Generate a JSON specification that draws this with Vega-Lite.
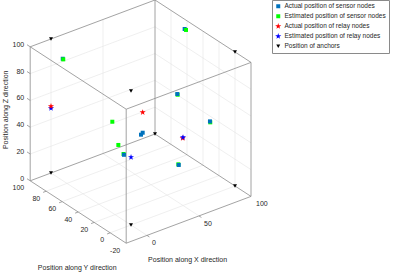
{
  "$schema": "https://vega.github.io/schema/vega-lite/v6.json",
  "width": 415,
  "height": 274,
  "padding": 0,
  "autosize": {"type": "none"},
  "background": "white",
  "config": {
    "view": {"stroke": null},
    "font": "Liberation Sans",
    "legend": {
      "orient": "none",
      "legendX": 272,
      "legendY": 0,
      "strokeColor": "#8a8a8a",
      "fillColor": "white",
      "padding": 3,
      "labelFontSize": 6.5,
      "labelColor": "#262626",
      "labelFont": "Liberation Sans",
      "rowPadding": 3,
      "labelOffset": 3,
      "symbolStrokeWidth": 0,
      "labelLimit": 300
    }
  },
  "datasets": {
    "frame": [
      {"part": "edge", "x1": -20, "y1": -20, "z1": 0, "x2": 100, "y2": -20, "z2": 0},
      {"part": "edge", "x1": -20, "y1": 100, "z1": 0, "x2": 100, "y2": 100, "z2": 0},
      {"part": "edge", "x1": -20, "y1": -20, "z1": 0, "x2": -20, "y2": 100, "z2": 0},
      {"part": "edge", "x1": 100, "y1": -20, "z1": 0, "x2": 100, "y2": 100, "z2": 0},
      {"part": "edge", "x1": -20, "y1": -20, "z1": 100, "x2": 100, "y2": -20, "z2": 100},
      {"part": "edge", "x1": -20, "y1": 100, "z1": 100, "x2": 100, "y2": 100, "z2": 100},
      {"part": "edge", "x1": -20, "y1": -20, "z1": 100, "x2": -20, "y2": 100, "z2": 100},
      {"part": "edge", "x1": 100, "y1": -20, "z1": 100, "x2": 100, "y2": 100, "z2": 100},
      {"part": "edge", "x1": -20, "y1": -20, "z1": 0, "x2": -20, "y2": -20, "z2": 100},
      {"part": "edge", "x1": 100, "y1": -20, "z1": 0, "x2": 100, "y2": -20, "z2": 100},
      {"part": "edge", "x1": -20, "y1": 100, "z1": 0, "x2": -20, "y2": 100, "z2": 100},
      {"part": "edge", "x1": 100, "y1": 100, "z1": 0, "x2": 100, "y2": 100, "z2": 100},
      {"part": "tick", "x1": -20, "y1": 100, "z1": 0, "x2": -20, "y2": 104, "z2": 0},
      {"part": "tick", "x1": -20, "y1": 100, "z1": 20, "x2": -20, "y2": 104, "z2": 20},
      {"part": "tick", "x1": -20, "y1": 100, "z1": 40, "x2": -20, "y2": 104, "z2": 40},
      {"part": "tick", "x1": -20, "y1": 100, "z1": 60, "x2": -20, "y2": 104, "z2": 60},
      {"part": "tick", "x1": -20, "y1": 100, "z1": 80, "x2": -20, "y2": 104, "z2": 80},
      {"part": "tick", "x1": -20, "y1": 100, "z1": 100, "x2": -20, "y2": 104, "z2": 100},
      {"part": "tick", "x1": -20, "y1": 0, "z1": 0, "x2": -23, "y2": 0, "z2": 0},
      {"part": "tick", "x1": -20, "y1": 20, "z1": 0, "x2": -23, "y2": 20, "z2": 0},
      {"part": "tick", "x1": -20, "y1": 40, "z1": 0, "x2": -23, "y2": 40, "z2": 0},
      {"part": "tick", "x1": -20, "y1": 60, "z1": 0, "x2": -23, "y2": 60, "z2": 0},
      {"part": "tick", "x1": -20, "y1": 80, "z1": 0, "x2": -23, "y2": 80, "z2": 0},
      {"part": "tick", "x1": 0, "y1": -20, "z1": 0, "x2": 0, "y2": -23, "z2": 0},
      {"part": "tick", "x1": 50, "y1": -20, "z1": 0, "x2": 50, "y2": -23, "z2": 0},
      {"part": "grid", "x1": 0, "y1": -20, "z1": 0, "x2": 0, "y2": 100, "z2": 0},
      {"part": "grid", "x1": 50, "y1": -20, "z1": 0, "x2": 50, "y2": 100, "z2": 0},
      {"part": "grid", "x1": -20, "y1": 0, "z1": 0, "x2": 100, "y2": 0, "z2": 0},
      {"part": "grid", "x1": -20, "y1": 20, "z1": 0, "x2": 100, "y2": 20, "z2": 0},
      {"part": "grid", "x1": -20, "y1": 40, "z1": 0, "x2": 100, "y2": 40, "z2": 0},
      {"part": "grid", "x1": -20, "y1": 60, "z1": 0, "x2": 100, "y2": 60, "z2": 0},
      {"part": "grid", "x1": -20, "y1": 80, "z1": 0, "x2": 100, "y2": 80, "z2": 0},
      {"part": "grid", "x1": 0, "y1": 100, "z1": 0, "x2": 0, "y2": 100, "z2": 100},
      {"part": "grid", "x1": 50, "y1": 100, "z1": 0, "x2": 50, "y2": 100, "z2": 100},
      {"part": "grid", "x1": -20, "y1": 100, "z1": 20, "x2": 100, "y2": 100, "z2": 20},
      {"part": "grid", "x1": -20, "y1": 100, "z1": 40, "x2": 100, "y2": 100, "z2": 40},
      {"part": "grid", "x1": -20, "y1": 100, "z1": 60, "x2": 100, "y2": 100, "z2": 60},
      {"part": "grid", "x1": -20, "y1": 100, "z1": 80, "x2": 100, "y2": 100, "z2": 80},
      {"part": "grid", "x1": 100, "y1": 0, "z1": 0, "x2": 100, "y2": 0, "z2": 100},
      {"part": "grid", "x1": 100, "y1": 20, "z1": 0, "x2": 100, "y2": 20, "z2": 100},
      {"part": "grid", "x1": 100, "y1": 40, "z1": 0, "x2": 100, "y2": 40, "z2": 100},
      {"part": "grid", "x1": 100, "y1": 60, "z1": 0, "x2": 100, "y2": 60, "z2": 100},
      {"part": "grid", "x1": 100, "y1": 80, "z1": 0, "x2": 100, "y2": 80, "z2": 100},
      {"part": "grid", "x1": 100, "y1": -20, "z1": 20, "x2": 100, "y2": 100, "z2": 20},
      {"part": "grid", "x1": 100, "y1": -20, "z1": 40, "x2": 100, "y2": 100, "z2": 40},
      {"part": "grid", "x1": 100, "y1": -20, "z1": 60, "x2": 100, "y2": 100, "z2": 60},
      {"part": "grid", "x1": 100, "y1": -20, "z1": 80, "x2": 100, "y2": 100, "z2": 80}
    ],
    "ticks": [
      {"axis": "z", "x": -20, "y": 100, "z": 0, "label": "0"},
      {"axis": "z", "x": -20, "y": 100, "z": 20, "label": "20"},
      {"axis": "z", "x": -20, "y": 100, "z": 40, "label": "40"},
      {"axis": "z", "x": -20, "y": 100, "z": 60, "label": "60"},
      {"axis": "z", "x": -20, "y": 100, "z": 80, "label": "80"},
      {"axis": "z", "x": -20, "y": 100, "z": 100, "label": "100"},
      {"axis": "y", "x": -20, "y": -20, "z": 0, "label": "-20"},
      {"axis": "y", "x": -20, "y": 0, "z": 0, "label": "0"},
      {"axis": "y", "x": -20, "y": 20, "z": 0, "label": "20"},
      {"axis": "y", "x": -20, "y": 40, "z": 0, "label": "40"},
      {"axis": "y", "x": -20, "y": 60, "z": 0, "label": "60"},
      {"axis": "y", "x": -20, "y": 80, "z": 0, "label": "80"},
      {"axis": "y", "x": -20, "y": 100, "z": 0, "label": "100"},
      {"axis": "x", "x": 0, "y": -20, "z": 0, "label": "0"},
      {"axis": "x", "x": 50, "y": -20, "z": 0, "label": "50"},
      {"axis": "x", "x": 100, "y": -20, "z": 0, "label": "100"}
    ],
    "titles": [
      {"axis": "x", "x": 40, "y": -20, "z": 0, "label": "Position along X direction"},
      {"axis": "y", "x": -20, "y": 40, "z": 0, "label": "Position along Y direction"},
      {"axis": "z", "x": -20, "y": 100, "z": 50, "label": "Position along Z direction"}
    ],
    "points": [
      {"series": "Position of anchors", "x": 0, "y": 0, "z": 0},
      {"series": "Position of anchors", "x": 100, "y": 0, "z": 0},
      {"series": "Position of anchors", "x": 0, "y": 100, "z": 0},
      {"series": "Position of anchors", "x": 100, "y": 100, "z": 0},
      {"series": "Position of anchors", "x": 0, "y": 0, "z": 100},
      {"series": "Position of anchors", "x": 100, "y": 0, "z": 100},
      {"series": "Position of anchors", "x": 0, "y": 100, "z": 100},
      {"series": "Actual position of sensor nodes", "x": 93.9, "y": 55, "z": 97.6},
      {"series": "Estimated position of sensor nodes", "x": 95.2, "y": 55, "z": 96.5},
      {"series": "Actual position of sensor nodes", "x": 3.6, "y": 90, "z": 88.1},
      {"series": "Estimated position of sensor nodes", "x": 4.1, "y": 90, "z": 87.5},
      {"series": "Estimated position of sensor nodes", "x": 75.6, "y": 40, "z": 59.7},
      {"series": "Actual position of sensor nodes", "x": 75.3, "y": 40, "z": 60.3},
      {"series": "Estimated position of sensor nodes", "x": 91.6, "y": 20, "z": 42.2},
      {"series": "Actual position of sensor nodes", "x": 91.3, "y": 20, "z": 43},
      {"series": "Actual position of sensor nodes", "x": 49.7, "y": 50, "z": 35},
      {"series": "Actual position of sensor nodes", "x": 48.1, "y": 50, "z": 34},
      {"series": "Estimated position of sensor nodes", "x": 20.5, "y": 50, "z": 51.7},
      {"series": "Estimated position of sensor nodes", "x": 18.6, "y": 40, "z": 38.8},
      {"series": "Estimated position of sensor nodes", "x": 15.9, "y": 30, "z": 36.7},
      {"series": "Actual position of sensor nodes", "x": 16.3, "y": 30, "z": 36},
      {"series": "Estimated position of sensor nodes", "x": 60.9, "y": 20, "z": 19.8},
      {"series": "Actual position of sensor nodes", "x": 61.3, "y": 20, "z": 19.2},
      {"series": "Estimated position of relay nodes", "x": 0, "y": 100, "z": 48.3},
      {"series": "Actual position of relay nodes", "x": 0, "y": 100, "z": 49.8},
      {"series": "Actual position of relay nodes", "x": 49.7, "y": 50, "z": 50.2},
      {"series": "Actual position of relay nodes", "x": 72.8, "y": 30, "z": 31.9},
      {"series": "Estimated position of relay nodes", "x": 73.1, "y": 30, "z": 32.5},
      {"series": "Estimated position of relay nodes", "x": 23.1, "y": 30, "z": 32.2}
    ]
  },
  "layer": [
    {
      "data": {"name": "frame"},
      "transform": [
        {"filter": "datum.part === 'grid'"},
        {"calculate": "131 + 1.04*datum.x1 - 0.8*datum.y1", "as": "sx1"},
        {"calculate": "225 - 0.39*datum.x1 - 0.52*datum.y1 - 1.34*datum.z1", "as": "sy1"},
        {"calculate": "131 + 1.04*datum.x2 - 0.8*datum.y2", "as": "sx2"},
        {"calculate": "225 - 0.39*datum.x2 - 0.52*datum.y2 - 1.34*datum.z2", "as": "sy2"}
      ],
      "mark": {"type": "rule", "color": "#e4e4e4", "strokeWidth": 0.6},
      "encoding": {
        "x": {"field": "sx1", "type": "quantitative", "scale": {"domain": [0, 415], "nice": false, "zero": false}, "axis": null},
        "y": {"field": "sy1", "type": "quantitative", "scale": {"domain": [0, 274], "nice": false, "zero": false, "reverse": true}, "axis": null},
        "x2": {"field": "sx2"},
        "y2": {"field": "sy2"}
      }
    },
    {
      "data": {"name": "frame"},
      "transform": [
        {"filter": "datum.part !== 'grid'"},
        {"calculate": "131 + 1.04*datum.x1 - 0.8*datum.y1", "as": "sx1"},
        {"calculate": "225 - 0.39*datum.x1 - 0.52*datum.y1 - 1.34*datum.z1", "as": "sy1"},
        {"calculate": "131 + 1.04*datum.x2 - 0.8*datum.y2", "as": "sx2"},
        {"calculate": "225 - 0.39*datum.x2 - 0.52*datum.y2 - 1.34*datum.z2", "as": "sy2"}
      ],
      "mark": {"type": "rule", "color": "#8c8c8c", "strokeWidth": 0.8},
      "encoding": {
        "x": {"field": "sx1", "type": "quantitative", "axis": null},
        "y": {"field": "sy1", "type": "quantitative", "axis": null},
        "x2": {"field": "sx2"},
        "y2": {"field": "sy2"}
      }
    },
    {
      "data": {"name": "ticks"},
      "transform": [
        {"filter": "datum.axis === 'z'"},
        {"calculate": "131 + 1.04*datum.x - 0.8*datum.y", "as": "sx"},
        {"calculate": "225 - 0.39*datum.x - 0.52*datum.y - 1.34*datum.z", "as": "sy"}
      ],
      "mark": {"type": "text", "align": "right", "baseline": "middle", "dx": -6, "dy": -2, "fontSize": 7, "color": "#262626"},
      "encoding": {
        "x": {"field": "sx", "type": "quantitative", "axis": null},
        "y": {"field": "sy", "type": "quantitative", "axis": null},
        "text": {"field": "label"}
      }
    },
    {
      "data": {"name": "ticks"},
      "transform": [
        {"filter": "datum.axis === 'y'"},
        {"calculate": "131 + 1.04*datum.x - 0.8*datum.y", "as": "sx"},
        {"calculate": "225 - 0.39*datum.x - 0.52*datum.y - 1.34*datum.z", "as": "sy"}
      ],
      "mark": {"type": "text", "align": "right", "baseline": "middle", "dx": -6, "dy": 7.5, "fontSize": 7, "color": "#262626"},
      "encoding": {
        "x": {"field": "sx", "type": "quantitative", "axis": null},
        "y": {"field": "sy", "type": "quantitative", "axis": null},
        "text": {"field": "label"}
      }
    },
    {
      "data": {"name": "ticks"},
      "transform": [
        {"filter": "datum.axis === 'x'"},
        {"calculate": "131 + 1.04*datum.x - 0.8*datum.y", "as": "sx"},
        {"calculate": "225 - 0.39*datum.x - 0.52*datum.y - 1.34*datum.z", "as": "sy"}
      ],
      "mark": {"type": "text", "align": "left", "baseline": "middle", "dx": 5, "dy": 8, "fontSize": 7, "color": "#262626"},
      "encoding": {
        "x": {"field": "sx", "type": "quantitative", "axis": null},
        "y": {"field": "sy", "type": "quantitative", "axis": null},
        "text": {"field": "label"}
      }
    },
    {
      "data": {"name": "titles"},
      "transform": [
        {"filter": "datum.axis === 'x'"},
        {"calculate": "131 + 1.04*datum.x - 0.8*datum.y", "as": "sx"},
        {"calculate": "225 - 0.39*datum.x - 0.52*datum.y - 1.34*datum.z", "as": "sy"}
      ],
      "mark": {"type": "text", "align": "center", "baseline": "middle", "dx": -1, "dy": 40, "fontSize": 7, "color": "#262626"},
      "encoding": {
        "x": {"field": "sx", "type": "quantitative", "axis": null},
        "y": {"field": "sy", "type": "quantitative", "axis": null},
        "text": {"field": "label"}
      }
    },
    {
      "data": {"name": "titles"},
      "transform": [
        {"filter": "datum.axis === 'y'"},
        {"calculate": "131 + 1.04*datum.x - 0.8*datum.y", "as": "sx"},
        {"calculate": "225 - 0.39*datum.x - 0.52*datum.y - 1.34*datum.z", "as": "sy"}
      ],
      "mark": {"type": "text", "align": "center", "baseline": "middle", "dx": -1, "dy": 56, "fontSize": 7, "color": "#262626"},
      "encoding": {
        "x": {"field": "sx", "type": "quantitative", "axis": null},
        "y": {"field": "sy", "type": "quantitative", "axis": null},
        "text": {"field": "label"}
      }
    },
    {
      "data": {"name": "titles"},
      "transform": [
        {"filter": "datum.axis === 'z'"},
        {"calculate": "131 + 1.04*datum.x - 0.8*datum.y", "as": "sx"},
        {"calculate": "225 - 0.39*datum.x - 0.52*datum.y - 1.34*datum.z", "as": "sy"}
      ],
      "mark": {"type": "text", "align": "center", "baseline": "middle", "angle": 270, "dx": 4, "dy": -24, "fontSize": 7, "color": "#262626"},
      "encoding": {
        "x": {"field": "sx", "type": "quantitative", "axis": null},
        "y": {"field": "sy", "type": "quantitative", "axis": null},
        "text": {"field": "label"}
      }
    },
    {
      "data": {"name": "points"},
      "transform": [
        {"calculate": "131 + 1.04*datum.x - 0.8*datum.y", "as": "sx"},
        {"calculate": "225 - 0.39*datum.x - 0.52*datum.y - 1.34*datum.z", "as": "sy"}
      ],
      "mark": {"type": "point", "filled": true, "opacity": 1, "strokeWidth": 0},
      "encoding": {
        "x": {"field": "sx", "type": "quantitative", "axis": null},
        "y": {"field": "sy", "type": "quantitative", "axis": null},
        "color": {
          "field": "series", "type": "nominal", "title": null,
          "scale": {
            "domain": ["Actual position of sensor nodes", "Estimated position of sensor nodes", "Actual position of relay nodes", "Estimated position of relay nodes", "Position of anchors"],
            "range": ["#0072BD", "#00FF00", "#FF0000", "#0000FF", "#000000"]
          }
        },
        "shape": {
          "field": "series", "type": "nominal", "title": null,
          "scale": {
            "domain": ["Actual position of sensor nodes", "Estimated position of sensor nodes", "Actual position of relay nodes", "Estimated position of relay nodes", "Position of anchors"],
            "range": ["square", "square", "M0,-1.6L0.36,-0.49L1.52,-0.49L0.58,0.19L0.94,1.29L0,0.61L-0.94,1.29L-0.58,0.19L-1.52,-0.49L-0.36,-0.49Z", "M0,-1.6L0.36,-0.49L1.52,-0.49L0.58,0.19L0.94,1.29L0,0.61L-0.94,1.29L-0.58,0.19L-1.52,-0.49L-0.36,-0.49Z", "triangle-down"]
          }
        },
        "size": {
          "field": "series", "type": "nominal", "title": null,
          "scale": {
            "domain": ["Actual position of sensor nodes", "Estimated position of sensor nodes", "Actual position of relay nodes", "Estimated position of relay nodes", "Position of anchors"],
            "range": [16, 16, 18, 18, 40]
          }
        }
      }
    }
  ]
}
